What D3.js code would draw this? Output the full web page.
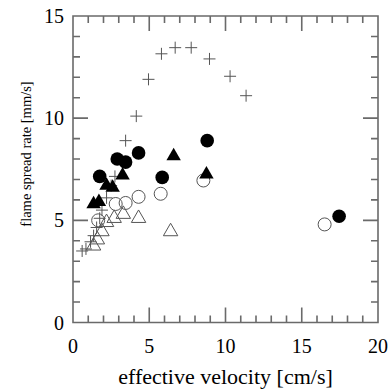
<!DOCTYPE html>
<html>
<head>
<meta charset="utf-8">
<script src="https://cdn.jsdelivr.net/npm/d3@7"></script>
<style>
	body { margin: 0; background: #fff; }
	svg { display: block; }
</style>
</head>
<body>
<svg id="chart" width="391" height="392"></svg>
<script>
// values: [effective velocity cm/s, flame spread rate mm/s]
const crossPts = [
	[0.6, 3.5], [0.85, 3.6], [1.15, 3.95], [1.35, 4.25], [1.55, 4.65], [1.75, 5.1],
	[1.9, 5.5], [2.2, 6.1], [2.5, 6.7], [2.75, 7.15], [3.45, 8.9], [4.15, 10.1],
	[4.95, 11.9], [5.8, 13.15], [6.7, 13.45], [7.75, 13.45], [8.95, 12.9],
	[10.3, 12.05], [11.35, 11.1]
];
const filledCircles = [
	[1.75, 7.15], [2.9, 8.0], [3.45, 7.85], [4.3, 8.3], [5.85, 7.1], [8.8, 8.9], [17.45, 5.2]
];
const filledTriangles = [
	[1.35, 5.8], [1.7, 5.9], [2.2, 6.7], [2.6, 6.6], [3.25, 7.2], [6.6, 8.15], [8.75, 7.25]
];
const openCircles = [
	[1.65, 5.0], [2.8, 5.8], [3.45, 5.85], [4.3, 6.15], [5.75, 6.3], [8.55, 6.95], [16.5, 4.8]
];
const openTriangles = [
	[1.35, 3.75], [1.6, 4.05], [1.9, 4.45], [2.2, 4.9], [2.7, 5.1], [3.3, 5.3], [4.3, 5.1], [6.4, 4.45]
];
const xMajor = [0, 5, 10, 15, 20];
const yMajor = [0, 5, 10, 15];
const xTitle = 'effective velocity [cm/s]';
const yTitle = 'flame spread rate [mm/s]';

const axisColor = '#6a6a6a';
const font = '"Liberation Serif", "Times New Roman", serif';

let svg = d3.select('#chart');
let pLeft = 73, pRight = 378, pTop = 16, pBottom = 322.5;

let x = d3.scaleLinear().domain([0, 20]).range([pLeft, pRight]);
let y = d3.scaleLinear().domain([0, 15]).range([pBottom, pTop]);

// frame and inward ticks, major every 5, minor every 1, as one path
let tickLen = d => (d % 5 === 0 ? 15 : 7);
let tp = d3.path();
d3.range(0, 21, 1).forEach(d => {
	tp.moveTo(x(d), pBottom); tp.lineTo(x(d), pBottom - tickLen(d));
	tp.moveTo(x(d), pTop); tp.lineTo(x(d), pTop + tickLen(d));
});
d3.range(0, 16, 1).forEach(d => {
	tp.moveTo(pLeft, y(d)); tp.lineTo(pLeft + tickLen(d), y(d));
	tp.moveTo(pRight, y(d)); tp.lineTo(pRight - tickLen(d), y(d));
});
tp.rect(pLeft, pTop, pRight - pLeft, pBottom - pTop);

svg.append('path')
	.attr('d', tp.toString())
	.style('fill', 'none')
	.style('stroke', axisColor)
	.style('stroke-width', '1.6px');

// markers
let pts = svg.append('g');
let tri = d3.symbol().type(d3.symbolTriangle).size(90);

pts.selectAll('.cr').data(crossPts).enter().append('path')
	.attr('d', d => `M${x(d[0]) - 6},${y(d[1])}h12M${x(d[0])},${y(d[1]) - 6}v12`)
	.attr('stroke', '#555').attr('stroke-width', 1).attr('fill', 'none');

pts.selectAll('.ot').data(openTriangles).enter().append('path')
	.attr('d', tri)
	.attr('transform', d => `translate(${x(d[0])},${y(d[1])})`)
	.attr('fill', 'none').attr('stroke', '#555').attr('stroke-width', 1);

pts.selectAll('.oc').data(openCircles).enter().append('circle')
	.attr('cx', d => x(d[0])).attr('cy', d => y(d[1])).attr('r', 6.5)
	.attr('fill', 'none').attr('stroke', '#555').attr('stroke-width', 1);

pts.selectAll('.ft').data(filledTriangles).enter().append('path')
	.attr('d', tri)
	.attr('transform', d => `translate(${x(d[0])},${y(d[1])})`)
	.attr('fill', '#000');

pts.selectAll('.fc').data(filledCircles).enter().append('circle')
	.attr('cx', d => x(d[0])).attr('cy', d => y(d[1])).attr('r', 6.8)
	.attr('fill', '#000');

// tick labels
let lab = svg.append('g');
lab.selectAll('.xlab').data(xMajor).enter().append('text')
	.attr('x', d => x(d)).attr('y', pBottom + 30)
	.attr('text-anchor', 'middle')
	.attr('font-family', font).attr('font-size', 20)
	.text(d => d);
lab.selectAll('.ylab').data(yMajor).enter().append('text')
	.attr('x', pLeft - 9).attr('y', d => y(d) + 7)
	.attr('text-anchor', 'end')
	.attr('font-family', font).attr('font-size', 20)
	.text(d => d);

// titles
lab.append('text')
	.attr('x', (pLeft + pRight) / 2).attr('y', 384)
	.attr('text-anchor', 'middle')
	.attr('font-family', font).attr('font-size', 22)
	.text(xTitle);
lab.append('text')
	.attr('transform', 'translate(31,154) rotate(-90)')
	.attr('text-anchor', 'middle')
	.attr('font-family', font).attr('font-size', 14.5)
	.attr('fill', '#000')
	.text(yTitle);
</script>
</body>
</html>
